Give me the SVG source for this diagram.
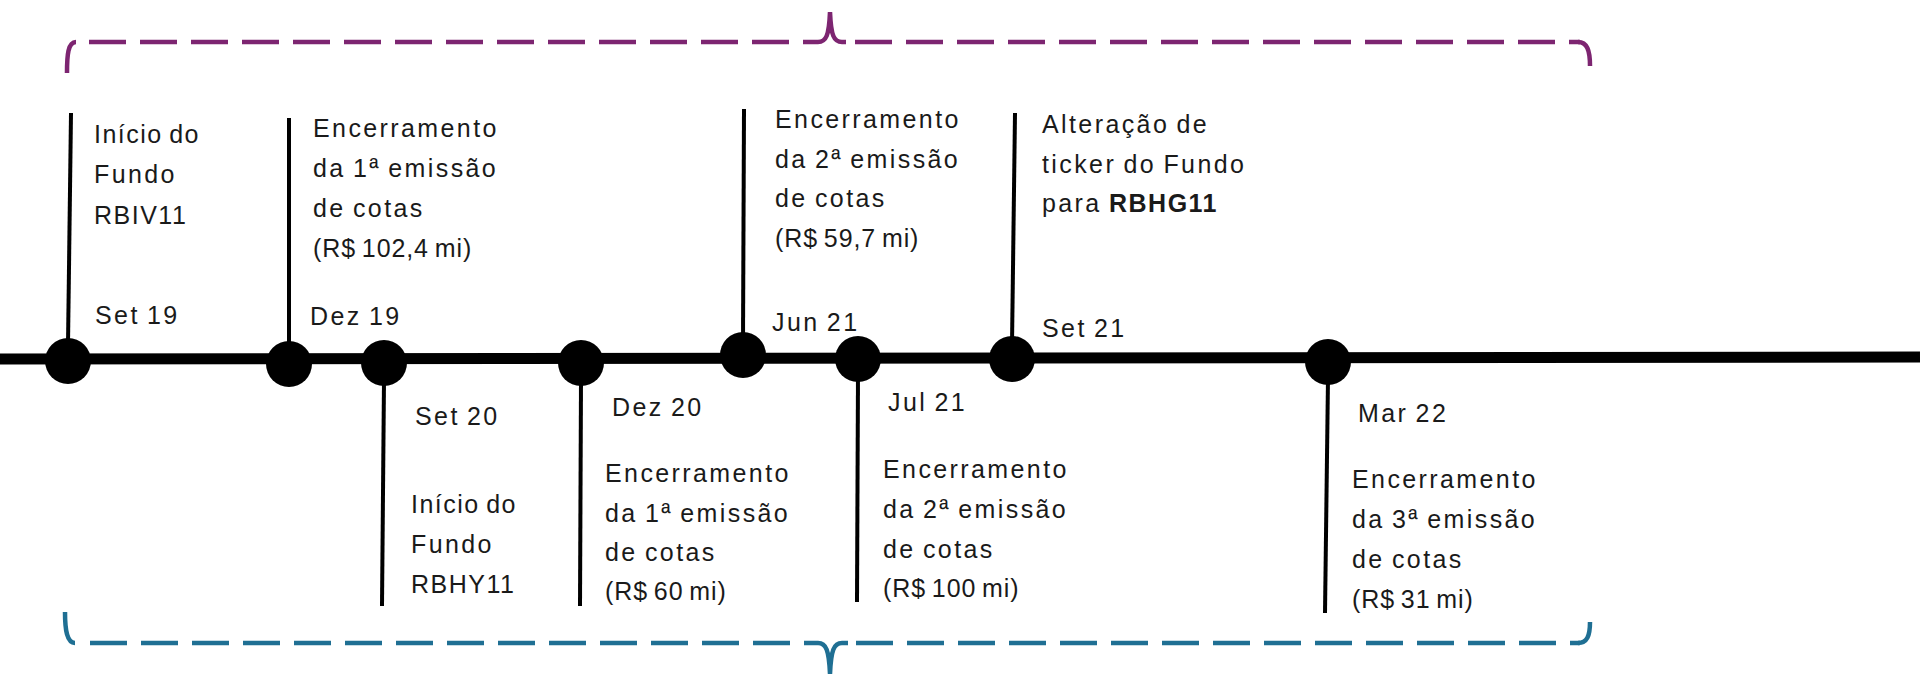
<svg xmlns="http://www.w3.org/2000/svg" width="1920" height="674" viewBox="0 0 1920 674">
<style>
text{font-family:"Liberation Sans","Noto Sans",sans-serif;font-size:25px;letter-spacing:2.4px;word-spacing:-2px;fill:#1a1a1a}
.b{font-weight:bold;letter-spacing:1.5px}
.v{letter-spacing:0.9px}
.n{letter-spacing:1.5px}
.stem{stroke:#000;stroke-width:4;fill:none}
.dot{fill:#000}
.pur{stroke:#7d2571;stroke-width:4.5;fill:none}
.blu{stroke:#1f6f93;stroke-width:4.5;fill:none}
.dash{stroke-dasharray:37 14}
</style>
<rect width="1920" height="674" fill="#fff"/>
<g id="brace-top">
<path class="pur" d="M67 73 C67 55 68 42 76 42"/>
<path class="pur dash" d="M89 42 H812"/>
<path class="pur" d="M812 42 H818 C826 42 829 36 830 12 C831 36 834 42 842 42 H846"/>
<path class="pur dash" d="M855 42 H1580"/>
<path class="pur" d="M1578 42 C1587 42 1590 50 1590 66"/>
</g>
<g id="brace-bottom">
<path class="blu" d="M65 612 C65 630 67 643 75 643"/>
<path class="blu dash" d="M90 643 H812"/>
<path class="blu" d="M812 643 H818 C826 643 829 650 830 674 C831 650 834 643 842 643 H848"/>
<path class="blu dash" d="M856 643 H1580"/>
<path class="blu" d="M1578 643 C1587 643 1590 636 1590 622"/>
</g>
<g id="connectors">
<path d="M0 359 L1920 357" stroke="#000" stroke-width="11" fill="none"/>
</g>
<g id="set19">
<path class="stem" d="M71 113 L68 345"/>
<circle class="dot" cx="68" cy="361" r="23"/>
<text x="94" y="143" class="n">Início do</text>
<text x="94" y="183">Fundo</text>
<text x="94" y="224" class="n">RBIV11</text>
<text x="95" y="324">Set 19</text>
</g>
<g id="dez19">
<path class="stem" d="M289 118 L289 345"/>
<circle class="dot" cx="289" cy="364" r="23"/>
<text x="313" y="137">Encerramento</text>
<text x="313" y="177">da 1ª emissão</text>
<text x="313" y="217">de cotas</text>
<text x="313" y="257" class="v">(R$ 102,4 mi)</text>
<text x="310" y="325">Dez 19</text>
</g>
<g id="set20">
<path class="stem" d="M384 380 L382 606"/>
<circle class="dot" cx="384" cy="363" r="23"/>
<text x="415" y="425">Set 20</text>
<text x="411" y="513" class="n">Início do</text>
<text x="411" y="553">Fundo</text>
<text x="411" y="593" class="n">RBHY11</text>
</g>
<g id="dez20">
<path class="stem" d="M581 380 L580 606"/>
<circle class="dot" cx="581" cy="363" r="23"/>
<text x="612" y="416">Dez 20</text>
<text x="605" y="482">Encerramento</text>
<text x="605" y="522">da 1ª emissão</text>
<text x="605" y="561">de cotas</text>
<text x="605" y="600" class="v">(R$ 60 mi)</text>
</g>
<g id="jun21">
<path class="stem" d="M744 109 L743 340"/>
<circle class="dot" cx="743" cy="355" r="23"/>
<text x="775" y="128">Encerramento</text>
<text x="775" y="168">da 2ª emissão</text>
<text x="775" y="207">de cotas</text>
<text x="775" y="247" class="v">(R$ 59,7 mi)</text>
<text x="772" y="331">Jun 21</text>
</g>
<g id="jul21">
<path class="stem" d="M858 375 L857 602"/>
<circle class="dot" cx="858" cy="359" r="23"/>
<text x="888" y="411">Jul 21</text>
<text x="883" y="478">Encerramento</text>
<text x="883" y="518">da 2ª emissão</text>
<text x="883" y="558">de cotas</text>
<text x="883" y="597" class="v">(R$ 100 mi)</text>
</g>
<g id="set21">
<path class="stem" d="M1015 113 L1012 345"/>
<circle class="dot" cx="1012" cy="359" r="23"/>
<text x="1042" y="133">Alteração de</text>
<text x="1042" y="173">ticker do Fundo</text>
<text x="1042" y="212">para <tspan class="b">RBHG11</tspan></text>
<text x="1042" y="337">Set 21</text>
</g>
<g id="mar22">
<path class="stem" d="M1328 378 L1325 613"/>
<circle class="dot" cx="1328" cy="362" r="23"/>
<text x="1358" y="422">Mar 22</text>
<text x="1352" y="488">Encerramento</text>
<text x="1352" y="528">da 3ª emissão</text>
<text x="1352" y="568">de cotas</text>
<text x="1352" y="608" class="v">(R$ 31 mi)</text>
</g>
</svg>
